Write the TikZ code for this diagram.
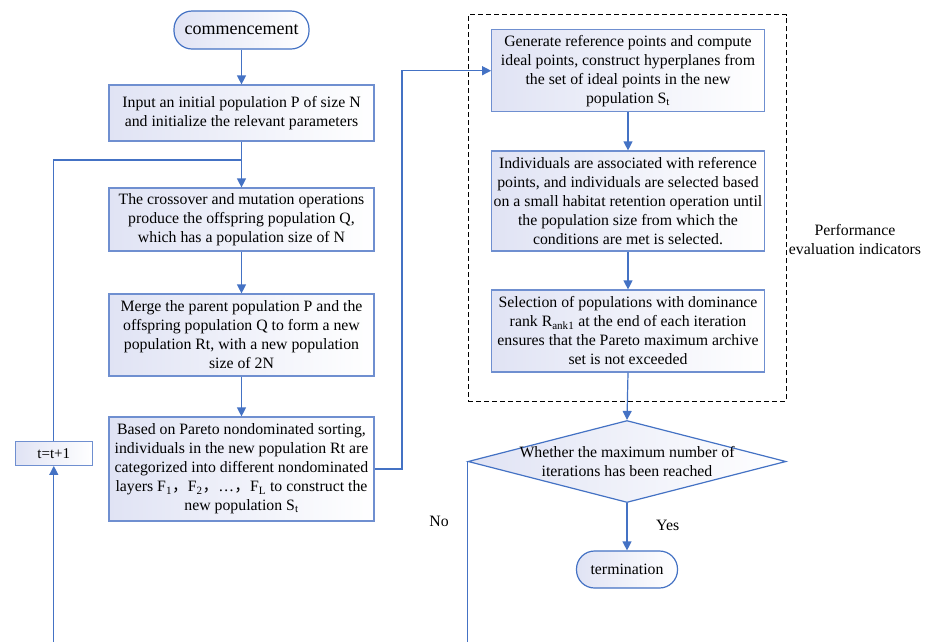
\documentclass[tikz,border=0pt]{standalone}
\usepackage{fontspec}
\setmainfont{Liberation Serif}
\newfontfamily\cjk{Noto Sans CJK SC}
\usetikzlibrary{arrows.meta,shapes.geometric}
\definecolor{lineblue}{HTML}{4472C4}
\definecolor{boxedge}{HTML}{6F8FD0}
\definecolor{lav}{HTML}{E0E3F4}
\begin{document}
\begin{tikzpicture}[x=1pt,y=-1pt,
  txt/.style={font=\fontsize{15.8}{19}\selectfont, text=black},
  procbox/.style={draw=boxedge, line width=1.2pt, left color=lav, right color=white, align=center, inner sep=0pt, txt},
  stadium/.style={procbox, draw=lineblue, rounded corners=18pt},
  conn/.style={draw=lineblue, line width=1.2pt, -{Triangle[length=9pt,width=9pt]}},
  plainline/.style={draw=lineblue, line width=1.2pt},
  lbl/.style={txt, align=center, inner sep=0pt},
]
\useasboundingbox (0,0) rectangle (939,641);
\fill[white] (0,0) rectangle (939,641);
\clip (0,0) rectangle (939,641);

% left column
\node[stadium, minimum width=135pt, minimum height=38pt, font=\fontsize{18}{20}\selectfont] (start) at (241.5,30) {commencement};
\node[procbox, minimum width=265pt, minimum height=56pt] (input) at (241.5,113) {Input an initial population P of size N\\and initialize the relevant parameters};
\node[procbox, minimum width=265pt, minimum height=63pt] (cross) at (241.5,219.5) {The crossover and mutation operations\\produce the offspring population Q,\\which has a population size of N};
\node[procbox, minimum width=265pt, minimum height=82pt] (merge) at (241.5,335) {Merge the parent population P and the\\offspring population Q to form a new\\population Rt, with a new population\\size of 2N};
\node[procbox, minimum width=265pt, minimum height=104pt] (pareto) at (241.5,469) {Based on Pareto nondominated sorting,\\individuals in the new population Rt are\\categorized into different nondominated\\layers F\textsubscript{1}{\cjk ，}F\textsubscript{2}{\cjk ，}…{\cjk ，}F\textsubscript{L} to construct the\\new population S\textsubscript{t}};
\node[procbox, minimum width=77pt, minimum height=24pt, font=\fontsize{15}{18}\selectfont] (tbox) at (53.8,453.3) {t=t+1};

% right column
\node[draw=black, dash pattern=on 5pt off 3pt, line width=1pt, minimum width=317.7pt, minimum height=387pt, inner sep=0pt] (perfbox) at (627.15,208.2) {};
\node[procbox, minimum width=272.6pt, minimum height=82pt] (gen) at (628,70.7) {Generate reference points and compute\\ideal points, construct hyperplanes from\\the set of ideal points in the new\\population S\textsubscript{t}};
\node[procbox, minimum width=272.6pt, minimum height=100pt] (indiv) at (628,201) {Individuals are associated with reference\\points, and individuals are selected based\\on a small habitat retention operation until\\the population size from which the\\conditions are met is selected.};
\node[procbox, minimum width=272.6pt, minimum height=82pt] (sel) at (628,331) {Selection of populations with dominance\\rank R\textsubscript{ank1} at the end of each iteration\\ensures that the Pareto maximum archive\\set is not exceeded};
\node[lbl] (perf) at (855,240) {Performance\\evaluation indicators};

\node[diamond, draw=lineblue, line width=1.2pt, left color=lav, right color=white, minimum width=318pt, minimum height=82pt, inner sep=0pt] (dia) at (627,461.5) {};
\node[lbl] (diatxt) at (627,461.5) {Whether the maximum number of\\iterations has been reached};
\node[stadium, minimum width=101pt, minimum height=37pt] (term) at (627,569.5) {termination};
\node[lbl] (yes) at (667.7,525) {Yes};
\node[lbl] (no) at (439,521) {No};

% helper coordinates
\coordinate (join) at (241.5,160);
\coordinate (rjog) at (402,0);
\coordinate (loopbot) at (260,700);

% connectors
\draw[conn] (start) -- (input);
\draw[conn] (input) -- (cross);
\draw[conn] (cross) -- (merge);
\draw[conn] (merge) -- (pareto);
\draw[conn] (pareto.east) -- (pareto.east -| rjog) |- (gen.west);
\draw[conn] (gen) -- (indiv);
\draw[conn] (indiv) -- (sel);
\draw[conn] (sel.south) -- (dia.north);
\draw[conn] (dia.south) -- (term.north);
\draw[conn] (dia.west) |- (loopbot) -| (tbox.south);
\draw[plainline] (tbox.north) |- (join);
\end{tikzpicture}
\end{document}
